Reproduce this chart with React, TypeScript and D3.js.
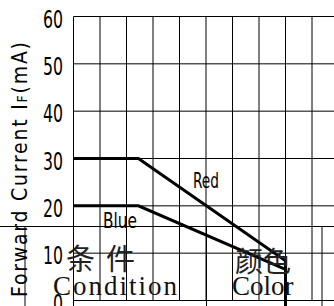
import * as d3 from "d3"

// forward current (mA) ticks on the left
const currentTicks = [0, 10, 20, 30, 40, 50, 60]
// vertical grid columns (ambient temperature, °C)
const tempGrid = [0, 10, 20, 30, 40, 50, 60, 70, 80, 90, 100]

// derating curves [temp, current]
const redCurve: [number, number][] = [
  [0, 30],
  [24.5, 30],
  [80, 8.4],
  [80, -2],
]
const blueCurve: [number, number][] = [
  [0, 20],
  [24.5, 20],
  [80, 6.6],
]

const W = 334
const H = 306

const narrow = "'Liberation Sans Narrow', 'DejaVu Sans Condensed', 'Arial Narrow', sans-serif"
const serif = "'Liberation Serif', 'DejaVu Serif', serif"
const cjk = "'Noto Sans CJK SC', sans-serif"

export default function App() {
  const x = d3.scaleLinear().domain([0, 100]).range([73.5, 338.5])
  const y = d3.scaleLinear().domain([0, 60]).range([300.5, 16.5])

  const line = d3
    .line<[number, number]>()
    .x((d) => x(d[0]))
    .y((d) => y(d[1]))

  // * overlay table from the datasheet
  const tableTop = 226.5
  const tableCols = [25, 73.5, 206.5, 322]

  return (
    <svg
      width={W}
      height={H}
      style={{ position: "absolute", left: 0, top: 0, background: "#fff" }}
    >
      <rect width={W} height={H} fill="#fff" />

      {/* grid */}
      {currentTicks.map((v) => (
        <line key={"h" + v} x1={x(0)} x2={W} y1={y(v)} y2={y(v)} stroke="#000" strokeWidth={1} />
      ))}
      {tempGrid.map((t) => (
        <line key={"v" + t} x1={x(t)} x2={x(t)} y1={y(60)} y2={y(0)} stroke="#000" strokeWidth={1} />
      ))}

      {/* table overlay */}
      <line x1={0} x2={W} y1={tableTop} y2={tableTop} stroke="#000" strokeWidth={1} />
      {tableCols.map((c) => (
        <line key={"t" + c} x1={c} x2={c} y1={tableTop} y2={H} stroke="#000" strokeWidth={1} />
      ))}

      {/* y tick labels */}
      {currentTicks.map((v) => {
        const s = String(v)
        return (
          <text
            key={"l" + v}
            x={63 - s.length * 10}
            y={y(v) + 4}
            dominantBaseline="middle"
            fontFamily={narrow}
            fontSize={24}
            fill="#000"
            textLength={s.length * 10}
            lengthAdjust="spacingAndGlyphs"
          >
            {s}
          </text>
        )
      })}

      {/* y axis title */}
      <text
        transform={`translate(27,169.5) rotate(-90)`}
        textAnchor="middle"
        fontFamily={narrow}
        fontSize={21}
        fill="#000"
        textLength={255}
        lengthAdjust="spacing"
      >
        Forward Current I<tspan fontSize={14}>F</tspan>(mA)
      </text>

      {/* curves */}
      <path d={line(redCurve) ?? ""} fill="none" stroke="#000" strokeWidth={3} />
      <path d={line(blueCurve) ?? ""} fill="none" stroke="#000" strokeWidth={3} />

      <text x={193} y={188} fontFamily={narrow} fontSize={21} textLength={26} lengthAdjust="spacingAndGlyphs">
        Red
      </text>
      <text x={103} y={228} fontFamily={narrow} fontSize={21} textLength={34} lengthAdjust="spacingAndGlyphs">
        Blue
      </text>

      {/* table captions */}
      <text x={66} y={270} fontFamily={cjk} fontSize={29} fill="#222">
        条
      </text>
      <text x={106} y={270} fontFamily={cjk} fontSize={29} fill="#222">
        件
      </text>
      <text x={235} y={272} fontFamily={cjk} fontSize={28} fill="#222">
        颜色
      </text>
      <text x={53} y={295} fontFamily={serif} fontSize={27} fill="#111" textLength={124} lengthAdjust="spacing">
        Condition
      </text>
      <text x={232} y={295} fontFamily={serif} fontSize={27} fill="#111">
        Color
      </text>
    </svg>
  )
}
